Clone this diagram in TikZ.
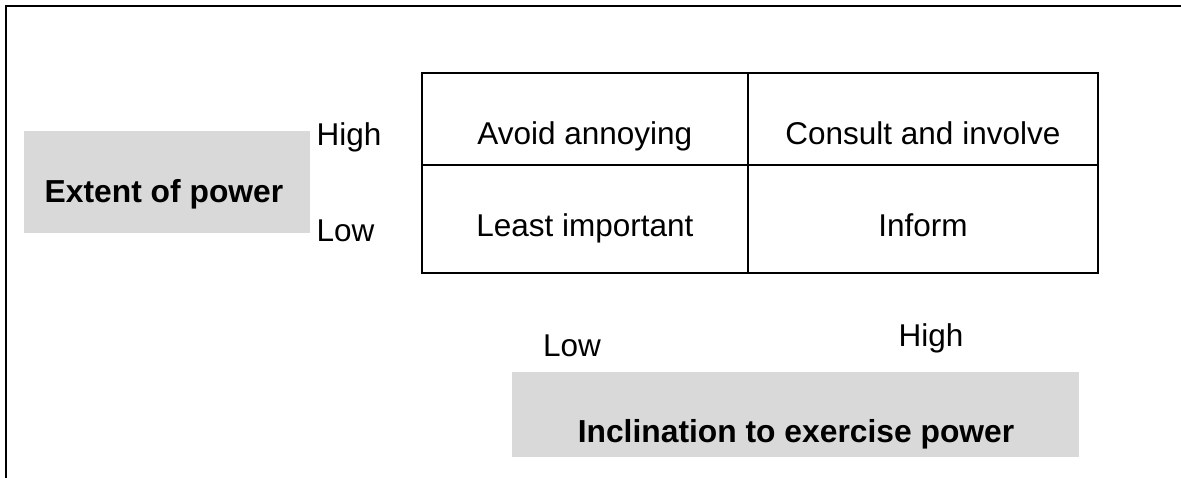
\documentclass[tikz,border=0pt]{standalone}
\usepackage{fontspec}
\setmainfont{Liberation Sans}
\begin{document}
\begin{tikzpicture}[x=1pt,y=-1pt,
  frameline/.style={line width=2pt, line cap=rect},
  cell/.style={draw, line width=1.8pt, inner sep=0pt, anchor=north west,
    minimum width=#1},
  axisbox/.style={fill=boxgray, inner sep=0pt, anchor=north west},
  txt/.style={inner sep=0pt, font=\fontsize{31.5}{37}\selectfont},
  btxt/.style={inner sep=0pt, font=\fontsize{31.8}{38}\selectfont\bfseries},
]
\definecolor{boxgray}{HTML}{D9D9D9}
\useasboundingbox (0,0) rectangle (1181,478);

% open frame: left side and top edge
\coordinate (fbl) at (6.3,478);
\coordinate (ftr) at (1181,6);
\draw[frameline] (fbl) |- (ftr);

% grey axis boxes
\node[axisbox, minimum width=286, minimum height=102] (powbox) at (24,131) {};
\node[axisbox, minimum width=567, minimum height=85] (incbox) at (512,372) {};
\node[btxt, anchor=base] (powtxt) at (164,203) {Extent of power};
\node[btxt, anchor=base] (inctxt) at (796,442.5) {Inclination to exercise power};

% the 2x2 grid
\node[cell=326, minimum height=92]  (c11) at (421,72)  {};
\node[cell=350, minimum height=92]  (c12) at (747,72)  {};
\node[cell=326, minimum height=108] (c21) at (421,164) {};
\node[cell=350, minimum height=108] (c22) at (747,164) {};

\node[txt, anchor=base] (t11) at (c11.center |- 0,145) {Avoid annoying};
\node[txt, anchor=base] (t12) at (c12.center |- 0,145) {Consult and involve};
\node[txt, anchor=base] (t21) at (c21.center |- 0,237) {Least important};
\node[txt, anchor=base] (t22) at (c22.center |- 0,237) {Inform};

% axis level labels
\node[txt, anchor=base west] (yhigh) at (316.5,146) {High};
\node[txt, anchor=base west] (ylow)  at (316.5,241.5) {Low};
\node[txt, anchor=base west] (xlow)  at (543,356) {Low};
\node[txt, anchor=base west] (xhigh) at (898.5,347) {High};
\end{tikzpicture}
\end{document}
